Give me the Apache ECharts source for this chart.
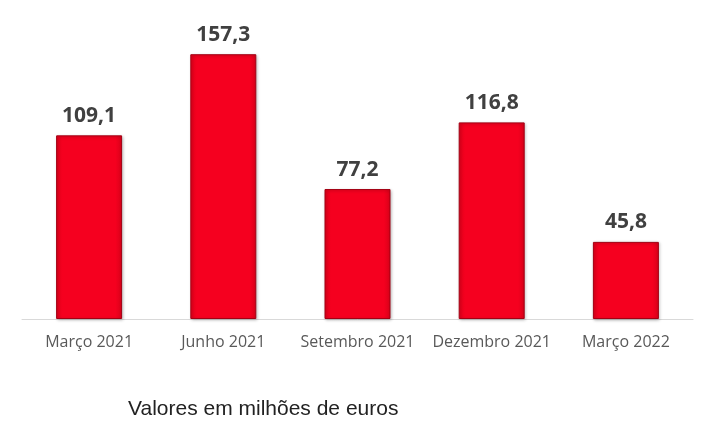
<!DOCTYPE html>
<html lang="pt" style="height: 100%">
<head>
  <meta charset="utf-8">
  <script src="https://cdn.jsdelivr.net/npm/echarts@6/dist/echarts.min.js"></script>
  <style>
    body { height: 100%; margin: 0; background: #fff; }
  </style>
</head>
<body>
  <div id="chart" style="width:714px;height:438px;"></div>
  <script>
    var categories = ['Março 2021', 'Junho 2021', 'Setembro 2021', 'Dezembro 2021', 'Março 2022'];
    var values = [109.1, 157.3, 77.2, 116.8, 45.8];
    var footnote = 'Valores em milhões de euros';

    var myChart = echarts.init(document.getElementById('chart'));
    var option = {
      backgroundColor: '#fff',
      animation: false,
      grid: { left: 22, right: 21, top: 16, bottom: 119 },
      xAxis: {
        type: 'category', data: categories,
        axisLine: { lineStyle: { color: '#d9d9d9', width: 1 } },
        axisTick: { show: false },
        axisLabel: { interval: 0, color: '#595959', fontSize: 16, fontFamily: 'Open Sans', margin: 15 }
      },
      yAxis: { type: 'value', min: 0, max: 180, show: false, splitLine: { show: false } },
      graphic: [{
        type: 'text', left: 128, top: 399,
        style: { text: footnote, fill: '#222', font: '21px "Liberation Sans", Arial, sans-serif' }
      }],
      series: [{
        type: 'bar', data: values, barWidth: 66,
        itemStyle: {
          color: new echarts.graphic.LinearGradient(0, 0, 1, 0, [
            { offset: 0, color: '#e3001b' },
            { offset: 0.1, color: '#f5001f' },
            { offset: 0.9, color: '#f5001f' },
            { offset: 1, color: '#d80019' }
          ]),
          borderColor: '#a30013', borderWidth: 1,
          shadowColor: 'rgba(0,0,0,0.25)', shadowBlur: 3, shadowOffsetX: 1, shadowOffsetY: 1
        },
        label: {
          show: true, position: 'top', distance: 9,
          color: '#404040', fontSize: 21, fontWeight: 'bold', fontFamily: 'Open Sans',
          formatter: function (p) { return p.value.toFixed(1).replace('.', ','); }
        }
      }]
    };
    myChart.setOption(option);
  </script>
</body>
</html>
